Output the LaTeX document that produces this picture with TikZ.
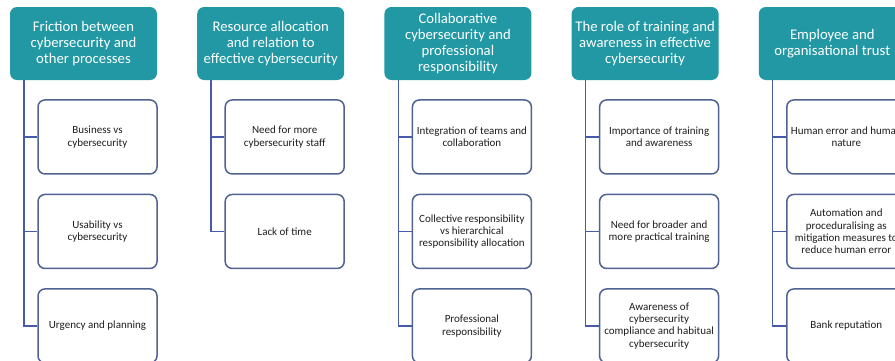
\documentclass[tikz,border=0pt]{standalone}
\usepackage{fontspec}
\setmainfont{Carlito}
\usetikzlibrary{positioning}
\definecolor{hdTeal}{RGB}{33,152,163}
\definecolor{bxBlue}{RGB}{80,98,145}
\definecolor{lnBlue}{RGB}{72,90,170}
\definecolor{txGray}{RGB}{30,30,30}
\tikzset{
  head/.style={rectangle, rounded corners=7pt, fill=hdTeal, draw=none,
    minimum width=147pt, minimum height=73pt, text=white, align=center,
    inner sep=2pt, font=\fontsize{14.7}{15.8}\selectfont},
  item/.style={rectangle, rounded corners=7pt, fill=white, draw=bxBlue,
    line width=1.5pt, minimum width=119pt, minimum height=74pt,
    text=txGray, align=center, inner sep=2pt, font=\fontsize{11}{12.3}\selectfont},
  conn/.style={draw=lnBlue, line width=1.4pt},
}

\begin{document}
\begin{tikzpicture}[x=1pt, y=1pt, node distance=19pt and 39.8pt]
\useasboundingbox (0,0) rectangle (895,-360);
\clip (0,0) rectangle (895,-360);

%% ── HEADERS ─────────────────────────────────────────────
\node[head] (fric) at (83.5,-43.5)
  {Friction between\\cybersecurity and\\other processes};
\node[head, right=of fric] (res)
  {Resource allocation\\and relation to\\effective cybersecurity};
\node[head, right=of res] (coll)
  {Collaborative\\cybersecurity and\\professional\\responsibility};
\node[head, right=of coll] (train)
  {The role of training and\\awareness in effective\\cybersecurity};
\node[head, right=of train] (trust)
  {Employee and\\organisational trust};

%% ── FRICTION ────────────────────────────────────────────
\node[item, below=of fric, xshift=14pt] (bus) {Business vs\\cybersecurity};
\node[item, below=of bus] (usab) {Usability vs\\cybersecurity};
\node[item, below=of usab] (urg) {Urgency and planning};
\coordinate (fricT) at ([xshift=14pt]fric.south west);
\draw[conn] (fricT) |- (bus.west);
\draw[conn] (fricT) |- (usab.west);
\draw[conn] (fricT) |- (urg.west);

%% ── RESOURCES ───────────────────────────────────────────
\node[item, below=of res, xshift=14pt] (staff) {Need for more\\cybersecurity staff};
\node[item, below=of staff] (time) {Lack of time};
\coordinate (resT) at ([xshift=14pt]res.south west);
\draw[conn] (resT) |- (staff.west);
\draw[conn] (resT) |- (time.west);

%% ── COLLABORATION ───────────────────────────────────────
\node[item, below=of coll, xshift=14pt] (integ) {Integration of teams and\\collaboration};
\node[item, below=of integ] (collr)
  {Collective responsibility\\vs hierarchical\\responsibility allocation};
\node[item, below=of collr] (prof) {Professional\\responsibility};
\coordinate (collT) at ([xshift=14pt]coll.south west);
\draw[conn] (collT) |- (integ.west);
\draw[conn] (collT) |- (collr.west);
\draw[conn] (collT) |- (prof.west);

%% ── TRAINING ────────────────────────────────────────────
\node[item, below=of train, xshift=14pt] (impt) {Importance of training\\and awareness};
\node[item, below=of impt] (broad) {Need for broader and\\more practical training};
\node[item, below=of broad] (aware)
  {Awareness of\\cybersecurity\\compliance and habitual\\cybersecurity};
\coordinate (trainT) at ([xshift=14pt]train.south west);
\draw[conn] (trainT) |- (impt.west);
\draw[conn] (trainT) |- (broad.west);
\draw[conn] (trainT) |- (aware.west);

%% ── TRUST ───────────────────────────────────────────────
\node[item, below=of trust, xshift=14pt] (human) {Human error and human\\nature};
\node[item, below=of human] (auto)
  {Automation and\\proceduralising as\\mitigation measures to\\reduce human error};
\node[item, below=of auto] (bank) {Bank reputation};
\coordinate (trustT) at ([xshift=14pt]trust.south west);
\draw[conn] (trustT) |- (human.west);
\draw[conn] (trustT) |- (auto.west);
\draw[conn] (trustT) |- (bank.west);

\end{tikzpicture}
\end{document}
